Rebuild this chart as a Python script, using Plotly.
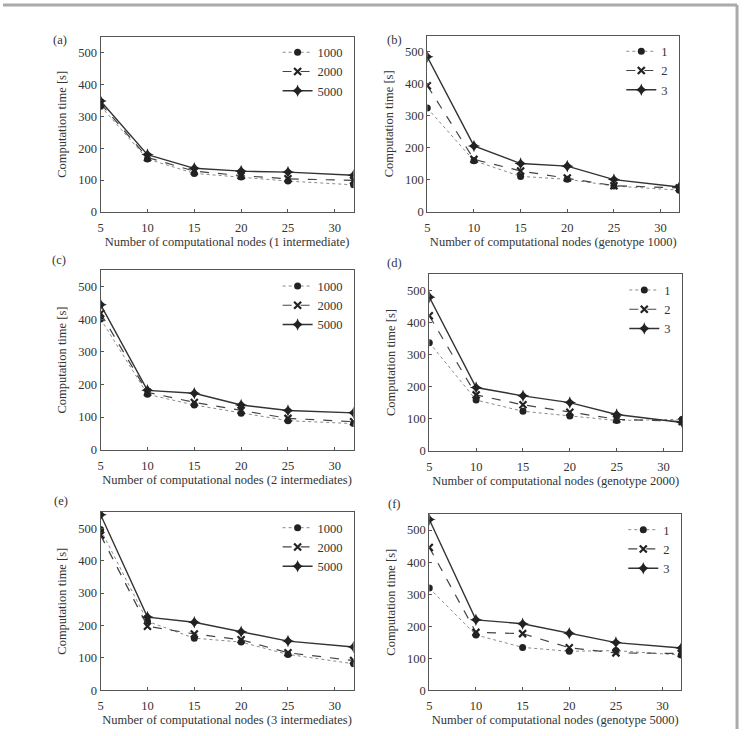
import plotly.graph_objects as go

# ---------------- data ----------------
nodes = [5, 10, 15, 20, 25, 32]

# (a) 1 intermediate
a_1000 = [332, 166, 121, 110, 97, 85]
a_2000 = [340, 171, 128, 114, 104, 99]
a_5000 = [348, 180, 137, 128, 125, 115]
# (b) genotype 1000
b_1 = [324, 160, 111, 102, 81, 68]
b_2 = [394, 164, 128, 106, 82, 75]
b_3 = [484, 206, 151, 143, 101, 78]
# (c) 2 intermediates
c_1000 = [401, 170, 137, 112, 89, 80]
c_2000 = [418, 176, 145, 120, 96, 86]
c_5000 = [445, 182, 173, 137, 120, 113]
# (d) genotype 2000
d_1 = [337, 158, 123, 108, 94, 98]
d_2 = [421, 174, 143, 120, 98, 91]
d_3 = [479, 197, 171, 150, 113, 88]
# (e) 3 intermediates
e_1000 = [496, 213, 161, 149, 111, 82]
e_2000 = [479, 198, 174, 156, 116, 92]
e_5000 = [542, 226, 210, 181, 152, 134]
# (f) genotype 5000
f_1 = [319, 173, 134, 122, 124, 110]
f_2 = [446, 181, 177, 133, 117, 115]
f_3 = [533, 220, 208, 178, 149, 132]

names_int = ["1000", "2000", "5000"]
names_gen = ["1", "2", "3"]

x_titles = [
    "Number of computational nodes (1 intermediate)",
    "Number of computational nodes (genotype 1000)",
    "Number of computational nodes (2 intermediates)",
    "Number of computational nodes (genotype 2000)",
    "Number of computational nodes (3 intermediates)",
    "Number of computational nodes (genotype 5000)",
]
panel_labels = ["(a)", "(b)", "(c)", "(d)", "(e)", "(f)"]
y_title = "Computation time [s]"
x_ticks = [5, 10, 15, 20, 25, 30]
y_ticks = [0, 100, 200, 300, 400, 500]

panels = [
    ([a_1000, a_2000, a_5000], names_int),
    ([b_1, b_2, b_3], names_gen),
    ([c_1000, c_2000, c_5000], names_int),
    ([d_1, d_2, d_3], names_gen),
    ([e_1000, e_2000, e_5000], names_int),
    ([f_1, f_2, f_3], names_gen),
]

# ---------------- layout geometry (pixels) ----------------
W, H = 746, 736
# left, right, top, bottom in px
boxes = [
    (98, 352, 37, 214),
    (426, 679, 36, 214),
    (98, 352, 273, 454),
    (428, 682, 277, 455),
    (98, 352, 517, 697),
    (428, 681, 519, 697),
]
label_pos = [(57, 40), (393, 40), (56, 263), (393, 266), (58, 506), (393, 509)]

FONT = "Liberation Serif"
TXT = "#333333"

styles = [
    dict(line=dict(color="#8a8a8a", width=1, dash="dot"),
         marker=dict(symbol="circle", size=7, color="#222222")),
    dict(line=dict(color="#444444", width=1.2, dash="dash"),
         marker=dict(symbol="x-thin-open", size=7, color="#222222",
                     line=dict(width=2.2, color="#222222"))),
    dict(line=dict(color="#333333", width=1.4),
         marker=dict(symbol="star-diamond", size=9, color="#222222")),
]

fig = go.Figure()
layout = dict(
    width=W, height=H,
    margin=dict(l=0, r=0, t=0, b=0),
    paper_bgcolor="white", plot_bgcolor="white",
    font=dict(family=FONT, size=12, color=TXT),
    showlegend=True,
    annotations=[], shapes=[],
)

for i, ((series, names), (l, r, t, b)) in enumerate(zip(panels, boxes)):
    k = i + 1
    xa = "x" if k == 1 else f"x{k}"
    ya = "y" if k == 1 else f"y{k}"
    lg = "legend" if k == 1 else f"legend{k}"
    for s, (vals, nm) in enumerate(zip(series, names)):
        fig.add_trace(go.Scatter(
            x=nodes, y=vals, name=nm, mode="lines+markers",
            xaxis=xa, yaxis=ya, legend=lg,
            line=styles[s]["line"], marker=styles[s]["marker"],
        ))
    axis_common = dict(
        showline=True, linecolor="#555555", linewidth=1, mirror=True,
        showgrid=False, zeroline=False, ticks="inside", ticklen=3,
        tickcolor="#555555", tickfont=dict(family=FONT, size=12.5, color=TXT),
    )
    layout[f"xaxis{'' if k == 1 else k}"] = dict(
        axis_common, domain=[l / W, r / W], range=[5, 32],
        anchor=ya, tickvals=x_ticks, ticklabelstandoff=4,
        title=dict(text=x_titles[i], standoff=2,
                   font=dict(family=FONT, size=12.5, color=TXT)),
    )
    layout[f"yaxis{'' if k == 1 else k}"] = dict(
        axis_common, domain=[1 - b / H, 1 - t / H], range=[0, 550],
        anchor=xa, tickvals=y_ticks,
        title=dict(text=y_title, standoff=8,
                   font=dict(family=FONT, size=12.5, color=TXT)),
    )
    layout[lg] = dict(
        x=(r - 6) / W, y=1 - (t + 1) / H, xanchor="right", yanchor="top",
        bgcolor="rgba(0,0,0,0)", borderwidth=0,
        font=dict(family=FONT, size=12.5, color=TXT),
        itemwidth=30, tracegroupgap=0,
    )
    lx, ly = label_pos[i]
    layout["annotations"].append(dict(
        text=panel_labels[i], x=lx / W, y=1 - ly / H, xref="paper", yref="paper",
        showarrow=False, font=dict(family=FONT, size=12.5, color=TXT),
        xanchor="center", yanchor="middle",
    ))

# outer frame (top and right edges)
layout["shapes"].append(dict(type="line", xref="paper", yref="paper",
                             x0=0, x1=737 / W, y0=1 - 5 / H, y1=1 - 5 / H,
                             line=dict(color="#aaaaaa", width=3)))
layout["shapes"].append(dict(type="line", xref="paper", yref="paper",
                             x0=737 / W, x1=737 / W, y0=0, y1=1 - 5 / H,
                             line=dict(color="#aaaaaa", width=3)))

fig.update_layout(**layout)
fig.write_html("out.html")
